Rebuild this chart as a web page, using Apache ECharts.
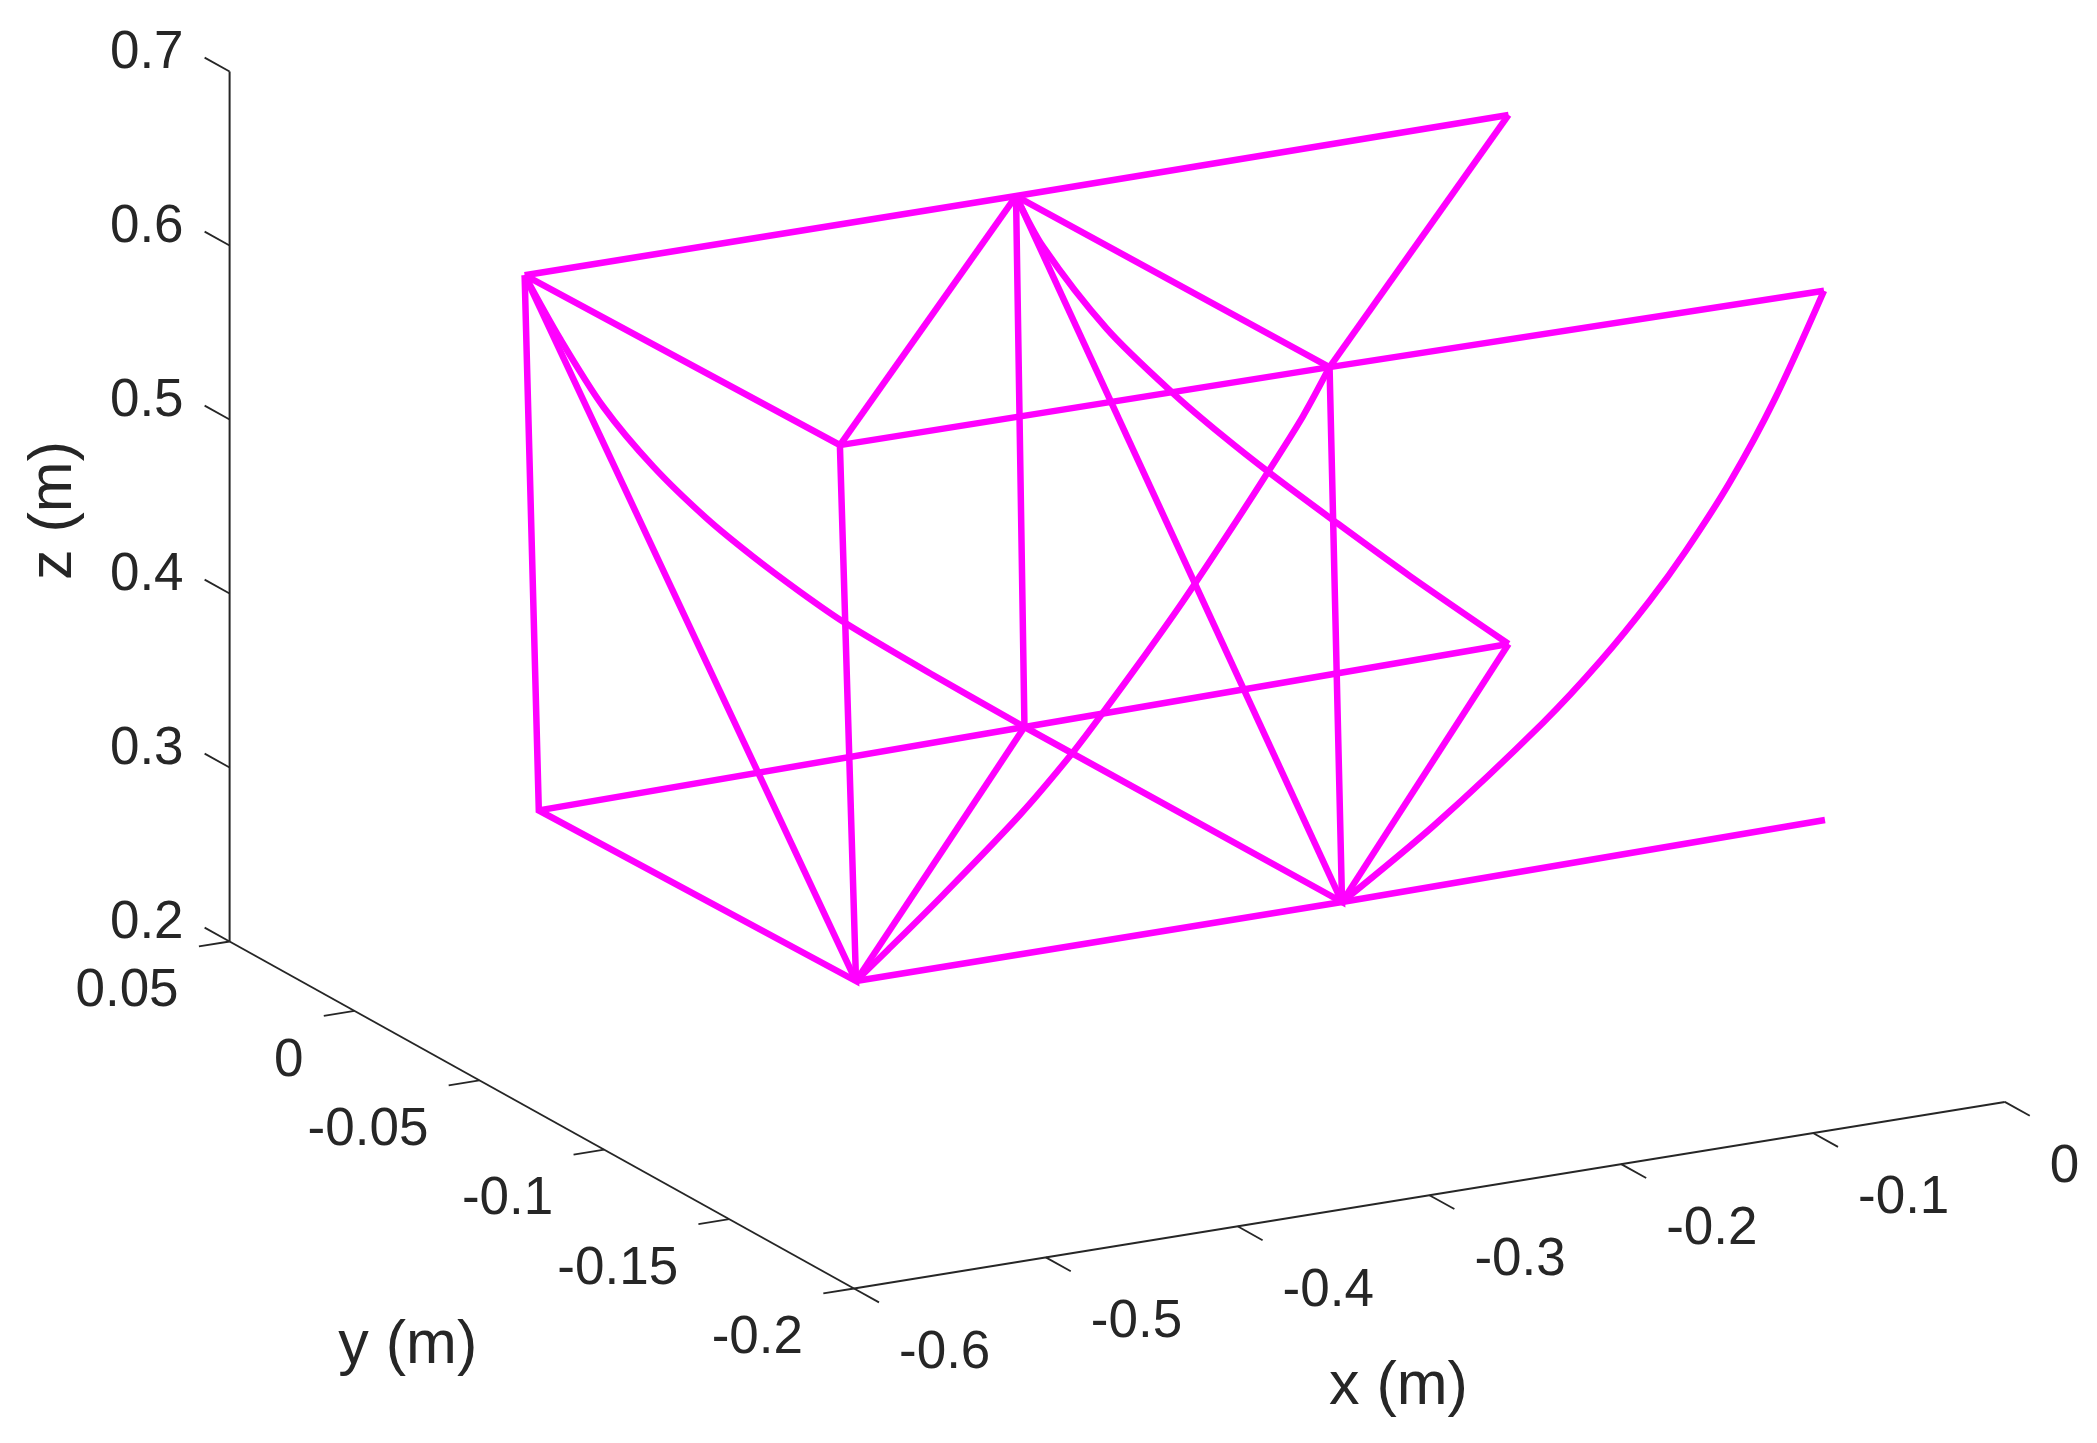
<!DOCTYPE html>
<html lang="en">
    <head>
        <meta charset="UTF-8">
        <title>truss</title>
        <style>
            html,body{margin:0;padding:0;background:#fff;}
        </style>
    </head>
    <body>
        <div id="main" style="width:2097px;height:1443px;"></div>
        <script src="https://cdn.jsdelivr.net/npm/echarts@6/dist/echarts.min.js"></script>
        <script type="text/javascript">
            // tick values and labels of the three axes
            const xTicks = [-0.6, -0.5, -0.4, -0.3, -0.2, -0.1, 0];
            const xLabels = ['-0.6', '-0.5', '-0.4', '-0.3', '-0.2', '-0.1', '0'];
            const yTicks = [0.05, 0, -0.05, -0.1, -0.15, -0.2];
            const yLabels = ['0.05', '0', '-0.05', '-0.1', '-0.15', '-0.2'];
            const zTicks = [0.2, 0.3, 0.4, 0.5, 0.6, 0.7];
            const zLabels = ['0.2', '0.3', '0.4', '0.5', '0.6', '0.7'];

            // frame nodes [x, y, z] in metres
            const topBack0 = [-0.5178, -0.005, 0.6121];
            const topBack1 = [-0.2616, -0.005, 0.6118];
            const topBack2 = [-0.0048, -0.005, 0.6125];
            const topFront0 = [-0.5162, -0.13, 0.6139];
            const topFront1 = [-0.2609, -0.13, 0.6131];
            const topFront2 = [-0.0031, -0.13, 0.6109];
            const lowBack0 = [-0.5104, -0.005, 0.3032];
            const lowBack1 = [-0.2572, -0.005, 0.3059];
            const lowBack2 = [-0.0048, -0.005, 0.3085];
            const lowFront0 = [-0.5078, -0.13, 0.3044];
            const lowFront1 = [-0.2544, -0.13, 0.3045];
            const lowFront2 = [-0.0026, -0.13, 0.3066];

            // straight members
            const members = [
                [topBack0, topBack1, topBack2],
                [topFront0, topFront1, topFront2],
                [lowBack0, lowBack1, lowBack2],
                [lowFront0, lowFront1, lowFront2],
                [topBack0, topFront0, lowFront0, lowBack0, topBack0],
                [topBack1, topFront1, lowFront1, lowBack1, topBack1],
                [topBack0, lowFront0],
                [topBack1, lowFront1],
                [topFront0, topBack1],
                [topFront1, topBack2],
                [lowFront0, lowBack1],
                [lowFront1, lowBack2]
            ];

            // curved members, [x, z] along the constant y of the plane they lie in
            const backY = -0.005;
            const frontY = -0.13;
            const curveBack0 = [[-0.5178, 0.6121], [-0.4994, 0.5725], [-0.4768, 0.5292], [-0.4507, 0.4901], [-0.4229, 0.4554], [-0.3986, 0.4290], [-0.3742, 0.4045], [-0.3508, 0.3825], [-0.3049, 0.3443], [-0.2572, 0.3059]];
            const curveBack1 = [[-0.2616, 0.6118], [-0.2475, 0.5802], [-0.2143, 0.5271], [-0.1787, 0.4826], [-0.1535, 0.4544], [-0.1292, 0.4289], [-0.0962, 0.3959], [-0.0562, 0.3567], [-0.0048, 0.3085]];
            const curveFront0 = [[-0.5078, 0.3044], [-0.4911, 0.3194], [-0.4623, 0.3459], [-0.4223, 0.3847], [-0.3954, 0.4148], [-0.3789, 0.4358], [-0.3571, 0.4648], [-0.3372, 0.4923], [-0.3093, 0.5336], [-0.2920, 0.5601], [-0.2748, 0.5873], [-0.2609, 0.6131]];
            const curveFront1 = [[-0.2544, 0.3045], [-0.2056, 0.3406], [-0.1496, 0.3888], [-0.1194, 0.4192], [-0.0938, 0.4492], [-0.0752, 0.4742], [-0.0521, 0.5098], [-0.0287, 0.5534], [-0.0031, 0.6109]];

            // fixed 3d view of the figure, gives canvas values from metres
            function project(p) {
                let a = p[0] + 0.6, b = p[1] + 0.2, c = p[2] - 0.2;
                return [854 + 1918 * a - 2497.6 * b, 1288.5 - 311 * a - 1388 * b - 1740 * c];
            }

            const axisColor = '#262626';
            const fontName = '"Liberation Sans", Arial, sans-serif';
            let series = [];

            function addLine(points, color, width, smooth) {
                series.push({
                    type: 'line',
                    data: points.map(project),
                    showSymbol: false,
                    symbol: 'none',
                    smooth: smooth || false,
                    silent: true,
                    lineStyle: {color: color, width: width, cap: 'butt', join: 'miter'}
                });
            }

            function addText(point, dx, dy, text, align, size, rotate) {
                let pos = project(point);
                series.push({
                    type: 'scatter',
                    data: [[pos[0] + dx, pos[1] + dy]],
                    symbolSize: 0,
                    silent: true,
                    itemStyle: {opacity: 1},
                    label: {
                        show: true,
                        position: 'inside',
                        formatter: text,
                        align: align,
                        verticalAlign: 'middle',
                        rotate: rotate || 0,
                        color: axisColor,
                        opacity: 1,
                        fontFamily: fontName,
                        fontSize: size
                    }
                });
            }

            // axes
            addLine([[-0.6, -0.2, 0.2], [0, -0.2, 0.2]], axisColor, 2);
            addLine([[-0.6, -0.2, 0.2], [-0.6, 0.05, 0.2]], axisColor, 2);
            addLine([[-0.6, 0.05, 0.2], [-0.6, 0.05, 0.7]], axisColor, 2);

            xTicks.forEach((v, i) => {
                addLine([[v, -0.2, 0.2], [v, -0.21, 0.2]], axisColor, 1.8);
                addText([v, -0.2, 0.2], 45, 65, xLabels[i], 'left', 53);
            });
            yTicks.forEach((v, i) => {
                addLine([[-0.6, v, 0.2], [-0.616, v, 0.2]], axisColor, 1.8);
                addText([-0.6, v, 0.2], -51, 50, yLabels[i], 'right', 53);
            });
            zTicks.forEach((v, i) => {
                addLine([[-0.6, 0.05, v], [-0.6, 0.06, v]], axisColor, 1.8);
                addText([-0.6, 0.05, v], -46, -18, zLabels[i], 'right', 53);
            });

            addText([-0.3, -0.2, 0.2], -31, 192, 'x (m)', 'center', 61);
            addText([-0.6, -0.075, 0.2], -134, 231, 'y (m)', 'center', 61);
            addText([-0.6, 0.05, 0.45], -175, 4, 'z (m)', 'center', 61, 90);

            // truss
            const trussColor = '#ff00ff';
            const trussWidth = 6.5;
            members.forEach(m => addLine(m, trussColor, trussWidth));
            addLine(curveBack0.map(p => [p[0], backY, p[1]]), trussColor, trussWidth, 0.3);
            addLine(curveBack1.map(p => [p[0], backY, p[1]]), trussColor, trussWidth, 0.3);
            addLine(curveFront0.map(p => [p[0], frontY, p[1]]), trussColor, trussWidth, 0.3);
            addLine(curveFront1.map(p => [p[0], frontY, p[1]]), trussColor, trussWidth, 0.3);

            let myChart = echarts.init(document.getElementById('main'));
            myChart.setOption({
                animation: false,
                backgroundColor: '#ffffff',
                grid: {left: 0, right: 0, top: 0, bottom: 0},
                xAxis: {type: 'value', min: 0, max: 2097, show: false},
                yAxis: {type: 'value', min: 0, max: 1443, inverse: true, show: false},
                series: series
            });
        </script>
    </body>
</html>
